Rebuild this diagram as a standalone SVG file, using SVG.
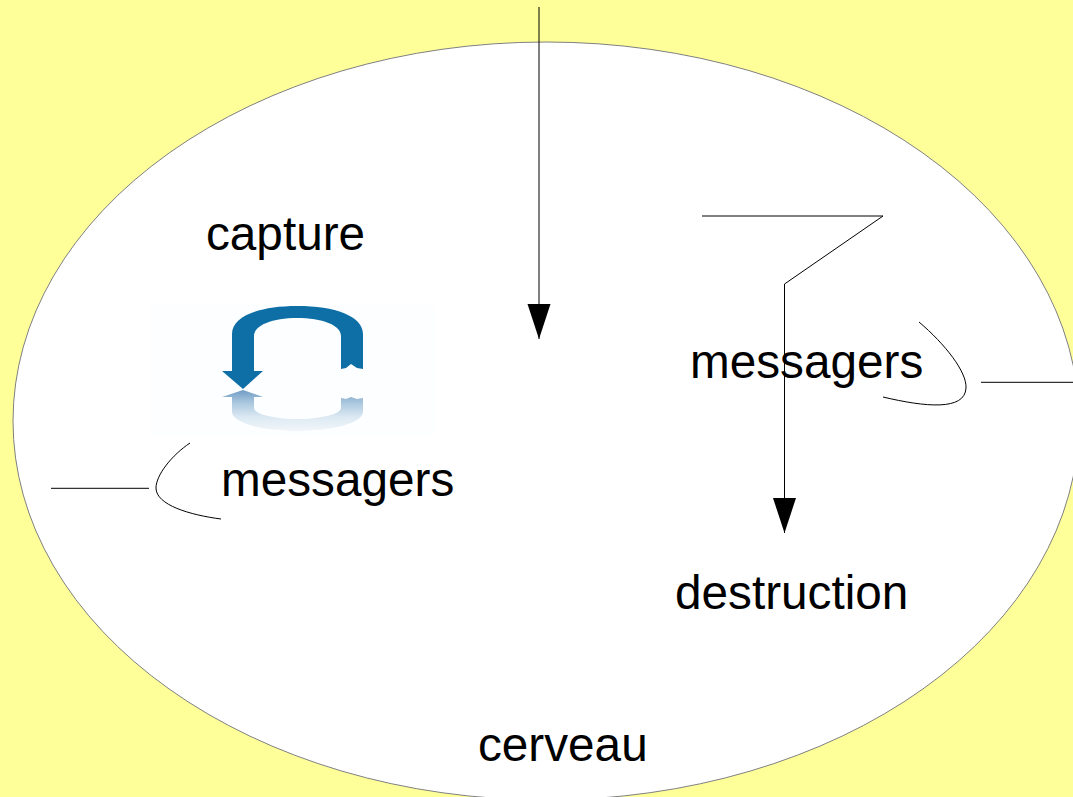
<svg xmlns="http://www.w3.org/2000/svg" width="1073" height="797" viewBox="0 0 1073 797">
<style>
text{font-family:"Liberation Sans",Arial,sans-serif;font-size:47.7px;fill:#000}
.c{fill:none;stroke:#000;stroke-width:1}
</style>
<defs>
<marker id="arr" markerUnits="userSpaceOnUse" markerWidth="35" markerHeight="24" refX="35" refY="12" orient="auto" viewBox="0 0 35 24"><path d="M0 0.5L35 12L0 23.5Z" fill="#000"/></marker>
<linearGradient id="refl" gradientUnits="userSpaceOnUse" x1="0" y1="390" x2="0" y2="431"><stop offset="0" stop-color="#6f9cc4"/><stop offset=".3" stop-color="#a9c6de"/><stop offset=".66" stop-color="#dce9f3"/><stop offset="1" stop-color="#f1f6fa"/></linearGradient>
</defs>
<rect width="1073" height="797" fill="#ffff99"/>
<g id="cerveau"><ellipse cx="546" cy="421" rx="533" ry="379" fill="#fff" stroke="#808080" stroke-width="1"/><text x="478" y="761">cerveau</text></g>
<g id="capture"><text x="206" y="250">capture</text></g>
<g id="icon">
<rect x="150" y="305" width="285" height="130" fill="#fdfeff"/>
<path d="M232 371V334C232 316 260 306 297 306C335 306 363 316 363 334V369L357 368L351 364L346 368L341 369V336C341 325 322 318 297 318C273 318 254 325 254 336V371H263L243 389L222 371Z" fill="#0e6fa6"/>
<path d="M222 397H263L243 390ZM232 397V412A65.500 19 0 0 0 363 412V398L357 399L351 397L346 399L341 398V408A43.500 11 0 0 1 254 408V397Z" fill="url(#refl)"/>
</g>
<g id="messagers-gauche"><text x="221" y="496">messagers</text></g>
<g id="messagers-droite"><text x="690" y="378">messagers</text></g>
<g id="destruction"><text x="675" y="609">destruction</text></g>
<g id="connectors">
<path class="c" d="M539 7V339" marker-end="url(#arr)"/>
<path class="c" d="M702 216H883L784.500 284V533" marker-end="url(#arr)"/>
<path class="c" d="M919 322C945 344 967 372 966 388C965 411 925 407 883 397"/>
<path class="c" d="M981 382.300H1073"/>
<path class="c" d="M190 443C172 455 156 475 156 488C156 505 190 515 221 519"/>
<path class="c" d="M51 488.300H149"/>
</g>
</svg>
